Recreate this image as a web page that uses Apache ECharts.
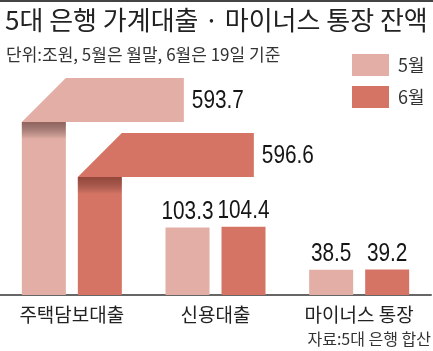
<!DOCTYPE html>
<html>
<head>
<meta charset="utf-8">
<script src="https://cdn.jsdelivr.net/npm/echarts@6/dist/echarts.min.js"></script>
<style>
  html, body { margin: 0; padding: 0; background: #fff; }
  #chart { width: 433px; height: 351px; }
</style>
</head>
<body>
<div id="chart"></div>
<script>
const categories = ['주택담보대출', '신용대출', '마이너스 통장'];
const may = [593.7, 103.3, 38.5];
const june = [596.6, 104.4, 39.2];
const seriesNames = ['5월', '6월'];

const COLORS = ['#e2aea5', '#d57465'];
const SHADE = ['rgba(90,50,48,0.6)', 'rgba(100,35,25,0.55)'];
const NUM_FONT = '26px "Liberation Sans", Arial, sans-serif';
const NUM_SQUEEZE = 0.8;   // the numbers in the original are set in a narrow face
const KR_FONT = '"Noto Sans CJK KR", sans-serif';
const BAR_W = 44, GAP = 12;
// bent bars for the mortgage group: how high the bend sits and how long the arm runs
const BENDS = [{ rise: 173, arm: 162 }, { rise: 118, arm: 176 }];

const chart = echarts.init(document.getElementById('chart'));

// first category is drawn as a bent bar by the custom series
const skipFirst = arr => arr.map((v, i) => i === 0 ? '-' : v);

function numText(value, x, y, align, vAlign) {
    return {
        type: 'text', x, y, scaleX: NUM_SQUEEZE,
        style: { text: value.toFixed(1), x: 0, y: 0, align, verticalAlign: vAlign, font: NUM_FONT, fill: '#151515' },
    };
}

function barLeft(api, cat, which) {
    const cx = api.coord([cat, 0])[0];
    return which === 0 ? cx - GAP / 2 - BAR_W : cx + GAP / 2;
}

function renderBent(params, api) {
    const which = api.value(2);
    const base = api.coord([api.value(0), 0]);
    const left = barLeft(api, api.value(0), which);
    const bend = BENDS[which];
    const bendY = base[1] - bend.rise;
    const topY = bendY - BAR_W;
    const right = left + bend.arm;
    return {
        type: 'group',
        children: [
            {
                type: 'polygon',
                shape: { points: [
                    [left, base[1]], [left, bendY], [left + BAR_W, topY], [right, topY],
                    [right, bendY], [left + BAR_W, bendY], [left + BAR_W, base[1]],
                ]},
                style: { fill: COLORS[which] },
            },
            {
                type: 'rect',
                shape: { x: left, y: bendY, width: BAR_W, height: 17 },
                style: {
                    fill: new echarts.graphic.LinearGradient(0, 0, 0, 1, [
                        { offset: 0, color: SHADE[which] },
                        { offset: 1, color: 'rgba(0,0,0,0)' },
                    ]),
                },
            },
            numText(api.value(1), right + 8, (topY + bendY) / 2 + 1, 'left', 'middle'),
        ],
    };
}

function renderTopLabel(params, api) {
    const cat = api.value(0), which = api.value(2);
    const x = barLeft(api, cat, which) + BAR_W / 2;
    const y = api.coord([cat, api.value(1)])[1] - 3;
    return numText(api.value(1), x, y, 'center', 'bottom');
}

const topLabels = [];
for (let i = 1; i < categories.length; i++) {
    topLabels.push([i, may[i], 0], [i, june[i], 1]);
}

chart.setOption({
    animation: false,
    backgroundColor: '#fff',
    graphic: [
        { type: 'rect', shape: { x: 0, y: 0, width: 433, height: 2 }, style: { fill: '#444' } },
        {
            type: 'text', left: 5, top: 7,
            style: { text: '5대 은행 가계대출 · 마이너스 통장 잔액', font: '26px ' + KR_FONT, fill: '#222' },
        },
        {
            type: 'text', left: 6, top: 46,
            style: { text: '단위:조원, 5월은 월말, 6월은 19일 기준', font: '17px ' + KR_FONT, fill: '#333' },
        },
        {
            type: 'text', right: 2, top: 331,
            style: { text: '자료:5대 은행 합산', font: '16px ' + KR_FONT, fill: '#333' },
        },
    ],
    legend: {
        data: seriesNames,
        orient: 'vertical',
        left: 352, top: 54, padding: 0,
        itemWidth: 37, itemHeight: 22, itemGap: 10,
        icon: 'rect',
        textStyle: { fontSize: 18, fontFamily: KR_FONT, color: '#333', padding: [0, 0, 0, 4] },
    },
    grid: { left: -4, right: 2, top: 60, bottom: 56 },
    xAxis: {
        type: 'category',
        data: categories,
        axisLine: { lineStyle: { color: '#666', width: 2 } },
        axisTick: { show: false },
        axisLabel: { fontSize: 19, fontFamily: KR_FONT, color: '#222', margin: 10 },
    },
    yAxis: { type: 'value', min: 0, max: 360, show: false },
    series: [
        {
            name: seriesNames[0], type: 'bar', data: skipFirst(may),
            barWidth: BAR_W, barGap: (GAP / BAR_W * 100) + '%',
            itemStyle: { color: COLORS[0] },
        },
        {
            name: seriesNames[1], type: 'bar', data: skipFirst(june),
            barWidth: BAR_W,
            itemStyle: { color: COLORS[1] },
        },
        {
            name: '주택담보대출', type: 'custom',
            data: [[0, may[0], 0], [0, june[0], 1]],
            encode: { x: 0, y: 1 },
            renderItem: renderBent,
            z: 3,
        },
        {
            name: '값', type: 'custom',
            data: topLabels,
            encode: { x: 0, y: 1 },
            renderItem: renderTopLabel,
            z: 4,
        },
    ],
});
</script>
</body>
</html>
